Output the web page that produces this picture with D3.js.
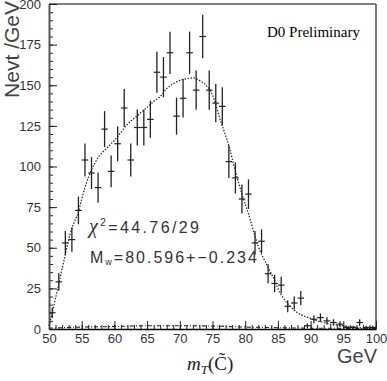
<!DOCTYPE html>
<html>
<head>
<meta charset="utf-8">
<script src="https://cdn.jsdelivr.net/npm/d3@7"></script>
<style>
  body { margin: 0; background: #fff; }
  svg { display: block; }
  .tick text { font-family: "Liberation Sans", Arial, sans-serif; }
</style>
</head>
<body>
<div id="chart"></div>
<script>
// bin centres (GeV) and events per GeV
var binCenters = [50.5, 51.5, 52.5, 53.5, 54.5, 55.5, 56.5, 57.5, 58.5, 59.5,
                  60.5, 61.5, 62.5, 63.5, 64.5, 65.5, 66.5, 67.5, 68.5, 69.5,
                  70.5, 71.5, 72.5, 73.5, 74.5, 75.5, 76.5, 77.5, 78.5, 79.5,
                  80.5, 81.5, 82.5, 83.5, 84.5, 85.5, 86.5, 87.5, 88.5, 89.5,
                  90.5, 91.5, 92.5, 93.5, 94.5, 95.5, 96.5, 97.5, 98.5, 99.5];
var counts = [10, 29, 53, 55, 73, 104, 96, 87, 123, 97,
              114, 136, 104, 124, 124, 129, 158, 155, 170, 131,
              142, 170, 147, 180, 147, 139, 137, 103, 93, 80,
              83, 53, 54, 34, 28, 27, 14, 16, 19, 2,
              6, 7, 5, 4, 3, 1, 1, 4, 1, 1];
var errors = [3.2, 5.4, 7.3, 7.4, 8.5, 10.2, 9.8, 9.3, 11.1, 9.8,
              10.7, 11.7, 10.2, 11.1, 11.1, 11.4, 12.6, 12.4, 13.0, 11.4,
              11.9, 13.0, 12.1, 13.4, 12.1, 11.8, 11.7, 10.1, 9.6, 8.9,
              9.1, 7.3, 7.3, 5.8, 5.3, 5.2, 3.7, 4.0, 4.4, 1.4,
              2.4, 2.6, 2.2, 2.0, 1.7, 1.0, 1.0, 2.0, 1.0, 1.0];

// fit curve (dotted)
var fitX = [50, 50.5, 51, 51.5, 52, 52.5, 53, 53.5, 54, 54.5, 55, 55.5, 56, 56.5, 57, 57.5,
            58, 58.5, 59, 59.5, 60, 61, 62, 63, 64, 65, 66, 67, 68, 69, 70, 71, 72, 73,
            74, 75, 75.5, 76, 76.5, 77, 77.5, 78, 78.5, 79, 79.5, 80, 80.5, 81, 81.5,
            82, 82.5, 83, 83.5, 84, 84.5, 85, 85.5, 86, 87, 88, 89, 90, 91, 92, 93, 94,
            95, 96, 97, 98, 99, 100];
var fitY = [2, 10, 19, 28, 37, 46, 55, 62, 67, 72, 80, 87, 93, 98, 102, 105.5,
            108, 110, 112, 114, 116, 121, 126, 129.5, 133, 136.5, 140, 143, 148, 151, 153, 154, 154.5, 153,
            150, 144, 138, 131, 125, 119, 113, 105, 97, 90, 83, 77, 71, 64, 57,
            51, 46, 42, 38, 34, 30, 25, 21, 18, 13.5, 10, 8, 6.5, 5, 4, 3, 2.5,
            2, 1.3, 1, 0.6, 0.3, 0.2];

// background curve (dash-dot)
var bkgX = [50, 55, 60, 65, 70, 75, 80, 85, 90, 95, 100];
var bkgY = [0.5, 1.2, 1.5, 2, 2, 1.8, 1.2, 0.8, 0.5, 0.4, 0.3];

var xTicks = [50, 55, 60, 65, 70, 75, 80, 85, 90, 95, 100];
var yTicks = [0, 25, 50, 75, 100, 125, 150, 175, 200];

drawChart();

function drawChart() {
    var W = 387, H = 381;
    var pLeft = 49, pRight = 376, pTop = 4, pBottom = 329;

    var svg = d3.select('#chart').append('svg')
        .attr('width', W).attr('height', H);

    var x = d3.scaleLinear().domain([50, 100]).range([pLeft, pRight]);
    var y = d3.scaleLinear().domain([0, 200]).range([pBottom, pTop]);

    // frame lines top / right
    svg.append('line').attr('x1', pLeft).attr('x2', pRight).attr('y1', pTop).attr('y2', pTop)
        .attr('stroke', '#000').attr('stroke-width', 1.2);
    svg.append('line').attr('x1', pRight).attr('x2', pRight).attr('y1', pTop).attr('y2', pBottom)
        .attr('stroke', '#777').attr('stroke-width', 2);

    // minor ticks
    svg.append('g').attr('transform', 'translate(0,' + pBottom + ')')
        .call(d3.axisBottom(x).tickValues(d3.range(50, 101, 1)).tickSize(-4).tickFormat(''))
        .call(function(g) { g.select('.domain').remove(); })
        .selectAll('line').attr('stroke', '#222');
    svg.append('g').attr('transform', 'translate(' + pLeft + ',0)')
        .call(d3.axisLeft(y).tickValues(d3.range(0, 201, 5)).tickSize(-4).tickFormat(''))
        .call(function(g) { g.select('.domain').remove(); })
        .selectAll('line').attr('stroke', '#222');

    // major axes
    var xAxis = svg.append('g').attr('transform', 'translate(0,' + pBottom + ')')
        .call(d3.axisBottom(x).tickValues(xTicks).tickSize(-8).tickPadding(3).tickSizeOuter(0));
    xAxis.select('.domain').attr('stroke', '#000').attr('stroke-width', 1.5);
    xAxis.selectAll('line').attr('stroke', '#222');
    xAxis.selectAll('text').attr('font-size', 13).attr('fill', '#333').attr('dy', '0.85em');

    var yAxis = svg.append('g').attr('transform', 'translate(' + pLeft + ',0)')
        .call(d3.axisLeft(y).tickValues(yTicks).tickSize(-8).tickPadding(8).tickSizeOuter(0));
    yAxis.select('.domain').attr('stroke', '#555').attr('stroke-width', 2);
    yAxis.selectAll('line').attr('stroke', '#222');
    yAxis.selectAll('text').attr('font-size', 13).attr('fill', '#333');

    var line = d3.line()
        .x(function(d) { return x(d[0]); })
        .y(function(d) { return y(d[1]); })
        .curve(d3.curveMonotoneX);

    // background curve
    svg.append('path')
        .datum(d3.zip(bkgX, bkgY))
        .attr('fill', 'none').attr('stroke', '#222').attr('stroke-width', 1.1)
        .attr('stroke-dasharray', '4,2,1,2')
        .attr('d', line);

    // fit curve
    svg.append('path')
        .datum(d3.zip(fitX, fitY))
        .attr('fill', 'none').attr('stroke', '#222').attr('stroke-width', 1.2)
        .attr('stroke-dasharray', '1.5,1.5')
        .attr('d', line);

    // data points with error bars
    var pts = svg.append('g').selectAll('g')
        .data(binCenters.map(function(c, i) { return { c: c, n: counts[i], e: errors[i] }; }))
        .enter().append('g');
    pts.append('line')
        .attr('x1', function(d) { return x(d.c); }).attr('x2', function(d) { return x(d.c); })
        .attr('y1', function(d) { return y(Math.max(0, d.n - d.e)); })
        .attr('y2', function(d) { return y(d.n + d.e); })
        .attr('stroke', '#222').attr('stroke-width', 1.3);
    pts.append('line')
        .attr('x1', function(d) { return x(d.c - 0.5); }).attr('x2', function(d) { return x(d.c + 0.5); })
        .attr('y1', function(d) { return y(d.n); }).attr('y2', function(d) { return y(d.n); })
        .attr('stroke', '#222').attr('stroke-width', 1.2);

    // labels
    svg.append('text')
        .attr('transform', 'translate(19,1) rotate(-90)')
        .attr('text-anchor', 'end')
        .attr('font-family', 'Liberation Sans, Arial, sans-serif')
        .attr('font-size', 21).attr('fill', '#444')
        .text('Nevt /GeV');

    svg.append('text')
        .attr('x', 377).attr('y', 363)
        .attr('text-anchor', 'end')
        .attr('font-family', 'Liberation Sans, Arial, sans-serif')
        .attr('font-size', 20).attr('fill', '#444')
        .text('GeV');

    svg.append('text')
        .attr('x', 267).attr('y', 37)
        .attr('font-family', 'Liberation Serif, Times New Roman, serif')
        .attr('font-size', 15).attr('fill', '#000')
        .text('D0 Preliminary');

    var chi = svg.append('text')
        .attr('x', 89).attr('y', 233)
        .attr('font-family', 'Liberation Sans, Arial, sans-serif')
        .attr('font-size', 16).attr('fill', '#333').attr('letter-spacing', 2.4);
    chi.append('tspan').attr('font-family', 'Liberation Serif, serif').attr('font-style', 'italic').attr('font-size', 20).text('\u03c7');
    chi.append('tspan').attr('font-size', 10).attr('dy', -7).text('2');
    chi.append('tspan').attr('dy', 7).text('=44.76/29');

    var mw = svg.append('text')
        .attr('x', 90).attr('y', 263)
        .attr('font-family', 'Liberation Sans, Arial, sans-serif')
        .attr('font-size', 16).attr('fill', '#333').attr('letter-spacing', 2);
    mw.append('tspan').text('M');
    mw.append('tspan').attr('font-size', 9).attr('dy', 2).text('w');
    mw.append('tspan').attr('dy', -2).text('=80.596+\u22120.234');

    var mt = svg.append('text')
        .attr('x', 187).attr('y', 370)
        .attr('font-family', 'Liberation Serif, Times New Roman, serif')
        .attr('font-size', 19).attr('fill', '#222');
    mt.append('tspan').attr('font-style', 'italic').text('m');
    mt.append('tspan').attr('font-style', 'italic').attr('font-size', 13).attr('dy', 4).text('T');
    mt.append('tspan').attr('dy', -4).text('(C\u0303)');
}
</script>
</body>
</html>
